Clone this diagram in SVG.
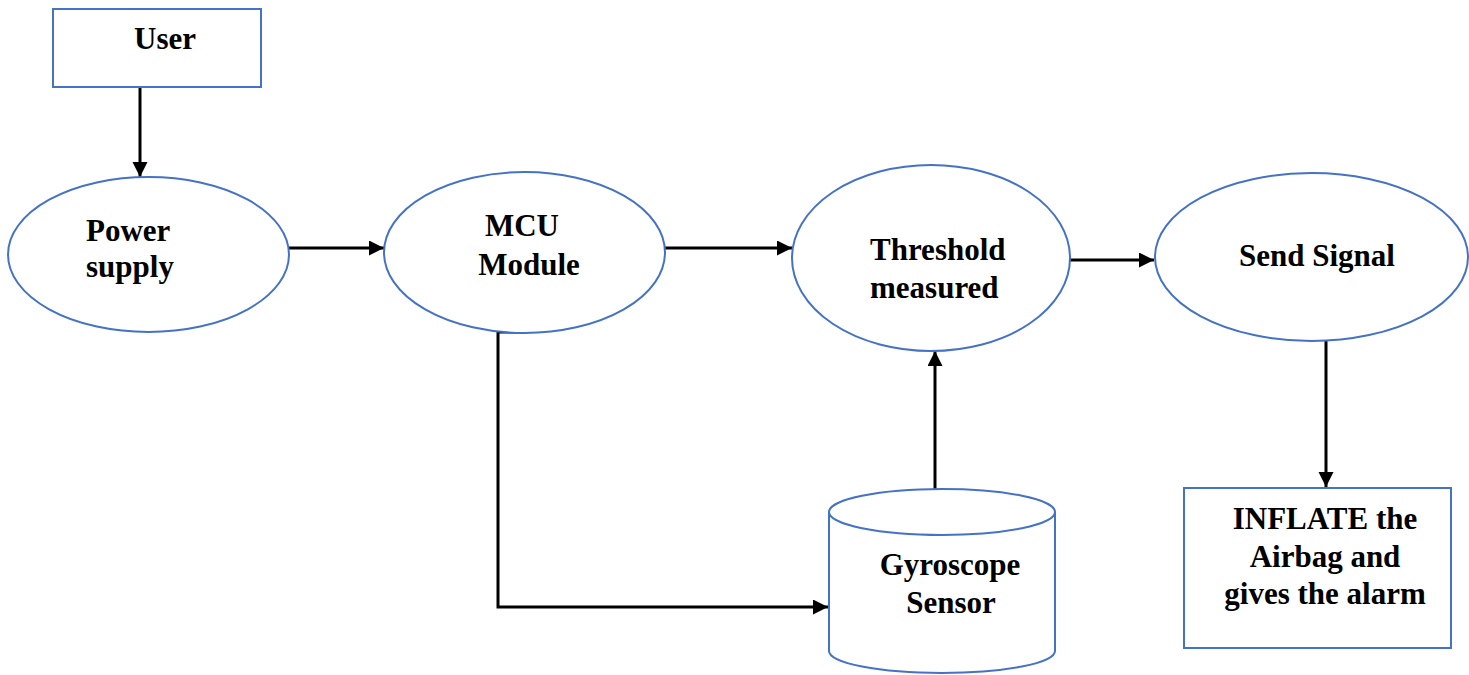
<svg xmlns="http://www.w3.org/2000/svg" width="1469" height="675" viewBox="0 0 1469 675">
<style>
.shape{fill:#fff;stroke:#4472C4;stroke-width:2}
.lbl{font-family:"Liberation Serif","Times New Roman",serif;font-weight:bold;font-size:31px;fill:#000}
.mid{text-anchor:middle}
.conn{fill:none;stroke:#000;stroke-width:3}
</style>
<defs>
<marker id="ah" markerUnits="userSpaceOnUse" markerWidth="16" markerHeight="16" refX="15" refY="7.5" orient="auto">
<path d="M0,0 L15,7.5 L0,15 z" fill="#000"/>
</marker>
</defs>
<rect width="1469" height="675" fill="#fff"/>
<g id="connectors">
<path class="conn" d="M140,87 V177" marker-end="url(#ah)"/>
<path class="conn" d="M289,248 H384" marker-end="url(#ah)"/>
<path class="conn" d="M665,248 H792" marker-end="url(#ah)"/>
<path class="conn" d="M1070,260 H1154" marker-end="url(#ah)"/>
<path class="conn" d="M1326,341 V487" marker-end="url(#ah)"/>
<path class="conn" d="M516,332 H498 V607 H828" marker-end="url(#ah)"/>
<path class="conn" d="M935,489 V351" marker-end="url(#ah)"/>
</g>
<g id="user">
<rect class="shape" x="53" y="9" width="208" height="78"/>
<text class="lbl" x="134" y="49">User</text>
</g>
<g id="power">
<ellipse class="shape" cx="148.5" cy="254.5" rx="140.5" ry="77.5"/>
<text class="lbl" x="86" y="241">Power</text>
<text class="lbl" x="86" y="277">supply</text>
</g>
<g id="mcu">
<ellipse class="shape" cx="524.5" cy="252.5" rx="140.5" ry="80.5"/>
<text class="lbl mid" x="522" y="236">MCU</text>
<text class="lbl mid" x="529" y="275">Module</text>
</g>
<g id="threshold">
<ellipse class="shape" cx="931" cy="258" rx="139" ry="93"/>
<text class="lbl" x="870" y="260">Threshold</text>
<text class="lbl" x="870" y="298">measured</text>
</g>
<g id="send">
<ellipse class="shape" cx="1311.5" cy="257" rx="156.5" ry="84"/>
<text class="lbl mid" x="1317" y="266">Send Signal</text>
</g>
<g id="gyro">
<path class="shape" d="M829,512 V651 A113,22 0 0 0 1055,651 V512"/>
<ellipse class="shape" cx="942" cy="512" rx="113" ry="23"/>
<text class="lbl mid" x="950" y="575">Gyroscope</text>
<text class="lbl mid" x="951" y="613">Sensor</text>
</g>
<g id="inflate">
<rect class="shape" x="1184" y="488" width="267" height="160"/>
<text class="lbl mid" x="1325" y="529">INFLATE the</text>
<text class="lbl mid" x="1325" y="567">Airbag and</text>
<text class="lbl mid" x="1325" y="604">gives the alarm</text>
</g>
</svg>
